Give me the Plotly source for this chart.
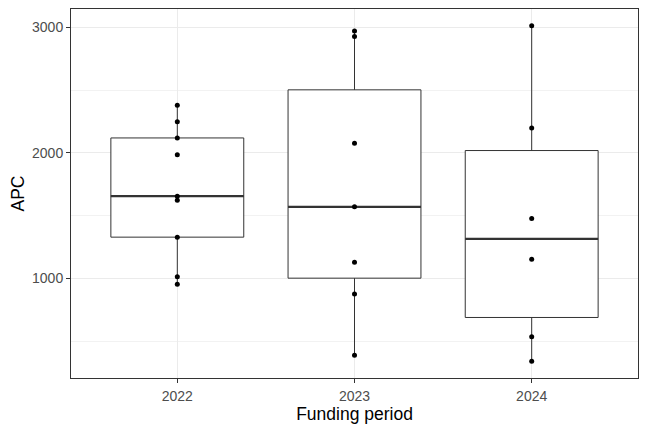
import plotly.graph_objects as go
import numpy as np

# ------------------- Datos -------------------
periodos = ['2022', '2023', '2024']
apc_2022 = [2379, 2249, 2119, 1984, 1655, 1623, 1328, 1013, 952]
apc_2023 = [2971, 2928, 2077, 1570, 1127, 875, 387]
apc_2024 = [3013, 2199, 1477, 1151, 533, 339]

datos = [apc_2022, apc_2023, apc_2024]
posiciones = [1, 2, 3]
ancho = 0.75
borde = '#333333'

fig = go.Figure()

# ------------------- Cajas -------------------
for pos, valores in zip(posiciones, datos):
    v = np.array(valores, dtype=float)
    q1, med, q3 = np.percentile(v, [25, 50, 75])
    iqr = q3 - q1
    bajo = v[v >= q1 - 1.5*iqr].min()
    alto = v[v <= q3 + 1.5*iqr].max()
    fig.add_trace(go.Box(x=[pos], q1=[q1], median=[med], q3=[q3], lowerfence=[bajo], upperfence=[alto],
                         width=ancho, whiskerwidth=0, fillcolor='white', line=dict(color=borde, width=1),
                         boxpoints=False, showlegend=False, hoverinfo='skip'))
    # linea de la mediana mas gruesa (como ggplot)
    fig.add_trace(go.Scatter(x=[pos-ancho/2, pos+ancho/2], y=[med, med], mode='lines',
                             line=dict(color=borde, width=2.2), showlegend=False, hoverinfo='skip'))

# ------------------- Puntos -------------------
xs = [p for p, valores in zip(posiciones, datos) for _ in valores]
ys = [y for valores in datos for y in valores]
fig.add_trace(go.Scatter(x=xs, y=ys, mode='markers', marker=dict(color='black', size=5),
                         showlegend=False))

# ------------------- Formato -------------------
# la pagina mete ~8px de margen, se compensa aqui
fig.update_layout(width=648, height=432, plot_bgcolor='white', paper_bgcolor='white',
                  margin=dict(l=63, r=18, t=1, b=62),
                  font=dict(family='Liberation Sans, Arial, sans-serif'))
fig.update_xaxes(range=[0.4, 3.6], tickvals=posiciones, ticktext=periodos,
                 title=dict(text='Funding period', font=dict(size=17.5, color='black'), standoff=4),
                 tickfont=dict(size=14, color='#4D4D4D'), ticklabelstandoff=1,
                 showgrid=True, gridcolor='#EBEBEB', gridwidth=1.07, zeroline=False,
                 showline=True, mirror=True, linecolor=borde, linewidth=1,
                 ticks='outside', ticklen=4, tickcolor=borde)
fig.update_yaxes(range=[205, 3147], tickvals=[1000, 2000, 3000],
                 title=dict(text='APC', font=dict(size=17.5, color='black'), standoff=6),
                 tickfont=dict(size=14, color='#4D4D4D'),
                 showgrid=True, gridcolor='#EBEBEB', gridwidth=1.07, zeroline=False,
                 minor=dict(tickvals=[500, 1500, 2500], showgrid=True, gridcolor='#F2F2F2', gridwidth=0.53),
                 showline=True, mirror=True, linecolor=borde, linewidth=1,
                 ticks='outside', ticklen=4, tickcolor=borde)

fig.write_html("out.html")
